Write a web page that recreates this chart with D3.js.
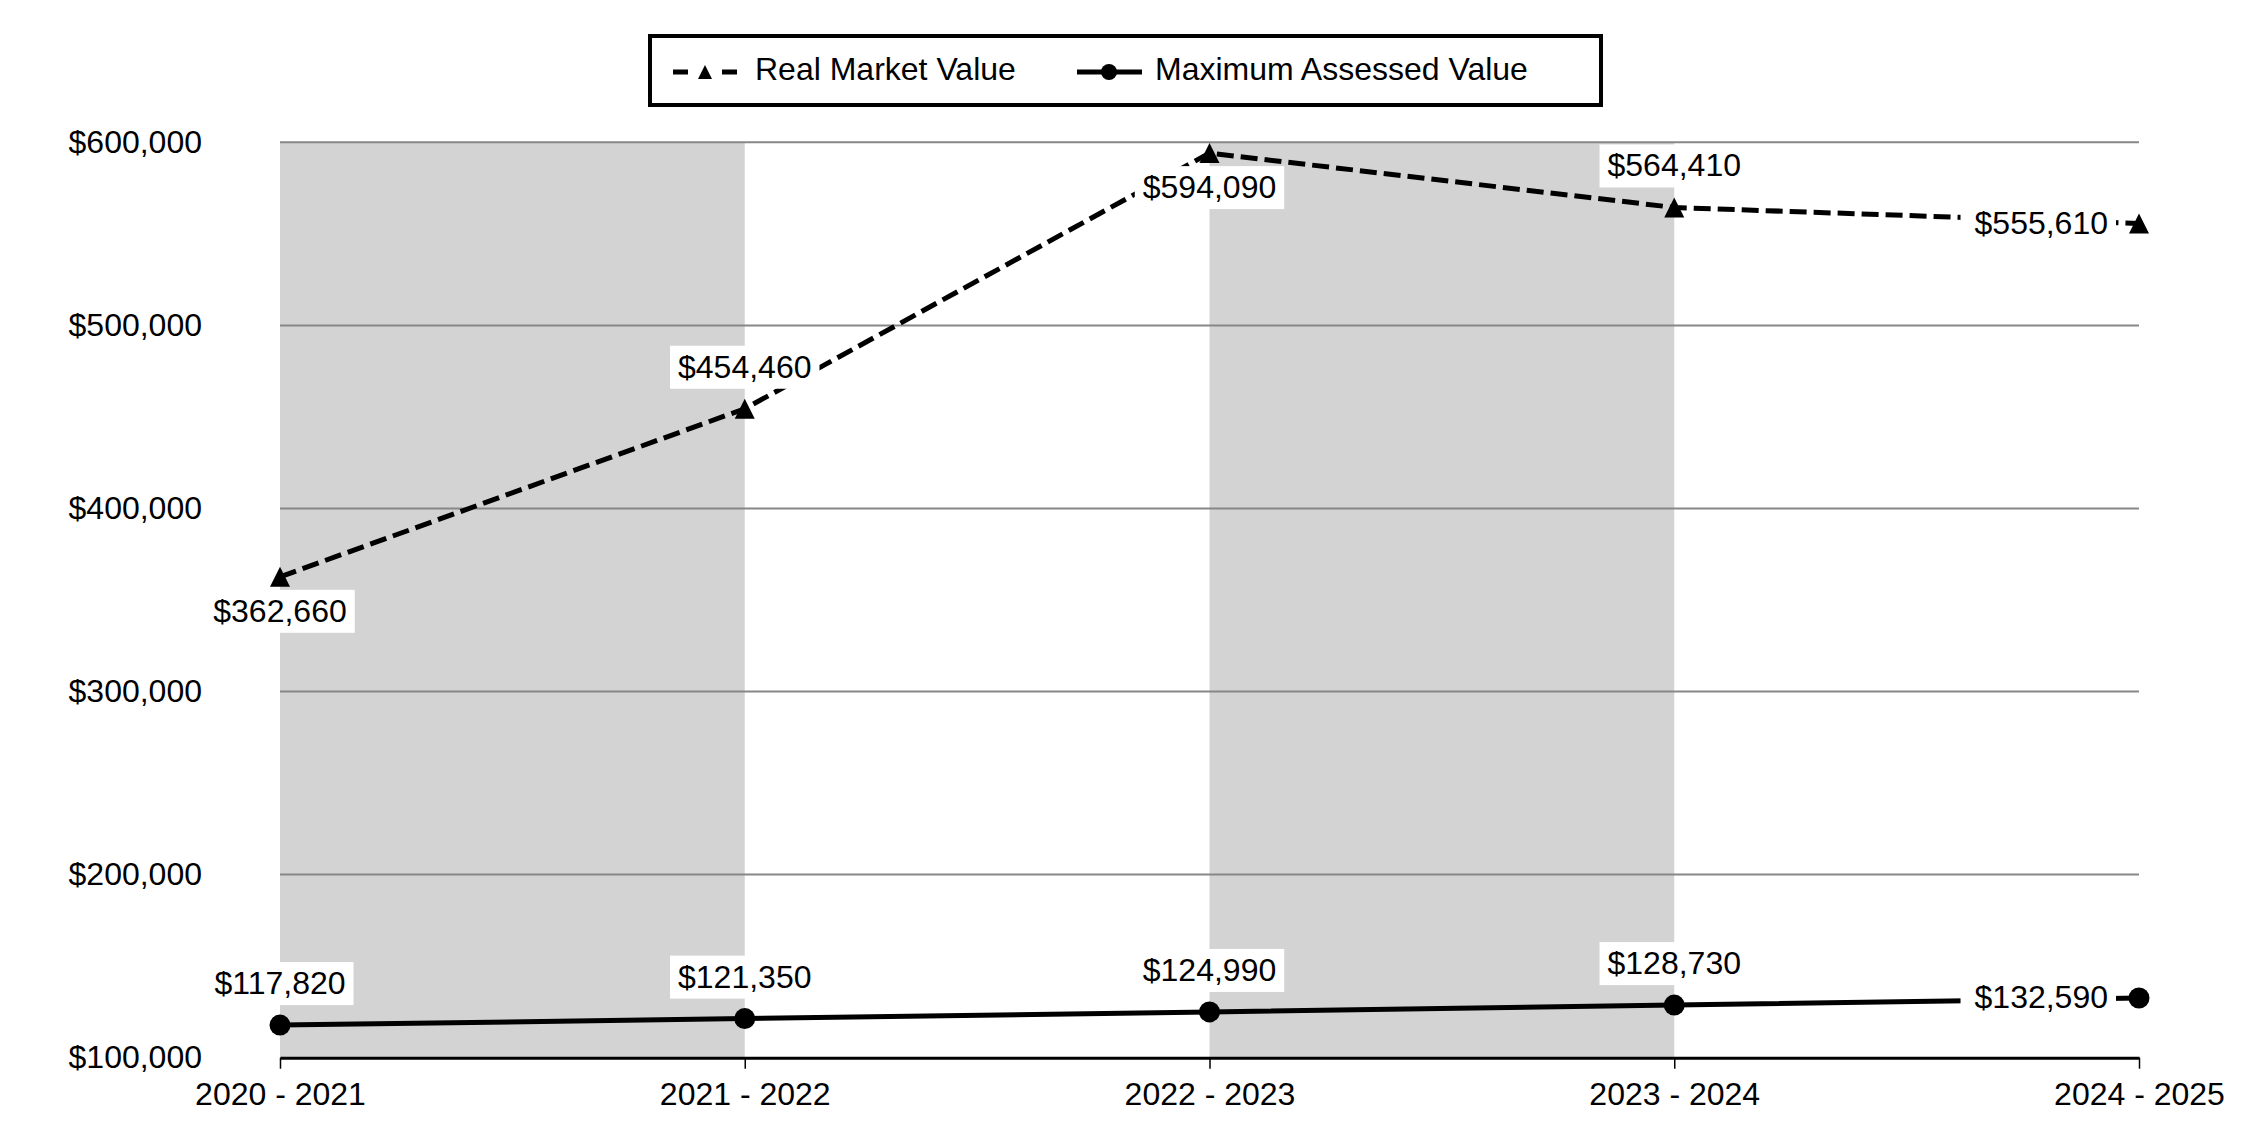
<!DOCTYPE html>
<html>
<head>
<meta charset="utf-8">
<script src="https://cdn.jsdelivr.net/npm/d3@7/dist/d3.min.js"></script>
<style>
  html, body { margin: 0; padding: 0; background: #ffffff; }
  svg { display: block; font-family: "Liberation Sans", Arial, sans-serif; }
</style>
</head>
<body>
<svg id="chart" width="2250" height="1140"></svg>
<script>
// ---- Data ----
const categories = ["2020 - 2021", "2021 - 2022", "2022 - 2023", "2023 - 2024", "2024 - 2025"];
const realMarketValue = [362660, 454460, 594090, 564410, 555610];
const maxAssessedValue = [117820, 121350, 124990, 128730, 132590];
const yTickValues = [100000, 200000, 300000, 400000, 500000, 600000];
const shadedBands = [[0, 1], [2, 3]];            // category index pairs
const seriesNames = ["Real Market Value", "Maximum Assessed Value"];
// label placement (relative to the point)
const rmvLabelPlacement = ["below", "above", "below", "above", "left"];
const mavLabelPlacement = ["above", "above", "above", "above", "left"];

// ---- Layout ----
const svg = d3.select("#chart");
const plotLeft = 280, plotRight = 2139, plotTop = 142.3, plotBottom = 1057.7;
const fontSize = 32;

const x = d3.scalePoint().domain(categories).range([plotLeft, plotRight]);
const y = d3.scaleLinear().domain([100000, 600000]).range([plotBottom, plotTop]);

// bands
svg.append("g").selectAll("rect").data(shadedBands).join("rect")
  .attr("x", d => x(categories[d[0]]))
  .attr("width", d => x(categories[d[1]]) - x(categories[d[0]]))
  .attr("y", y(600000))
  .attr("height", y(100000) - y(600000))
  .attr("fill", "#d3d3d3");

// gridlines
svg.append("g").selectAll("line").data(yTickValues.filter(v => v > 100000)).join("line")
  .attr("x1", plotLeft).attr("x2", plotRight)
  .attr("y1", d => y(d)).attr("y2", d => y(d))
  .attr("stroke", "#878787").attr("stroke-width", 2);

// y axis labels
const yAxis = svg.append("g")
  .attr("transform", `translate(${plotLeft},0)`)
  .call(d3.axisLeft(y).tickValues(yTickValues).tickFormat(d3.format("$,.0f")).tickSize(0).tickPadding(78));
yAxis.select(".domain").remove();
yAxis.selectAll("text").attr("font-size", fontSize).attr("font-family", "Liberation Sans, Arial, sans-serif").attr("fill", "#000");

// x axis
const xAxis = svg.append("g")
  .attr("transform", `translate(0,${plotBottom})`)
  .call(d3.axisBottom(x).tickSize(11).tickSizeOuter(0).tickPadding(14));
xAxis.select(".domain").attr("stroke", "#000").attr("stroke-width", 3);
xAxis.selectAll(".tick line").attr("stroke", "#000").attr("stroke-width", 1.5);
xAxis.selectAll("text").attr("font-size", fontSize).attr("font-family", "Liberation Sans, Arial, sans-serif").attr("fill", "#000");

// custom triangle symbol (width = height)
const triangleType = {
  draw(context, size) {
    const h = Math.sqrt(size);
    context.moveTo(0, -h / 2);
    context.lineTo(h / 2, h / 2);
    context.lineTo(-h / 2, h / 2);
    context.closePath();
  }
};

// lines
const line = d3.line().x((d, i) => x(categories[i])).y(d => y(d));
svg.append("path").datum(realMarketValue)
  .attr("d", line).attr("fill", "none").attr("stroke", "#000")
  .attr("stroke-width", 5).attr("stroke-dasharray", "17,7");
svg.append("path").datum(maxAssessedValue)
  .attr("d", line).attr("fill", "none").attr("stroke", "#000")
  .attr("stroke-width", 5);

// markers
svg.append("g").selectAll("path").data(realMarketValue).join("path")
  .attr("transform", (d, i) => `translate(${x(categories[i])},${y(d)})`)
  .attr("d", d3.symbol().type(triangleType).size(20 * 20)())
  .attr("fill", "#000");
svg.append("g").selectAll("path").data(maxAssessedValue).join("path")
  .attr("transform", (d, i) => `translate(${x(categories[i])},${y(d)})`)
  .attr("d", d3.symbol().type(d3.symbolCircle).size(Math.PI * 10.5 * 10.5)())
  .attr("fill", "#000");

// data labels
const fmt = d3.format("$,.0f");
function drawLabels(values, placement) {
  const g = svg.append("g");
  values.forEach((v, i) => {
    const px = x(categories[i]), py = y(v);
    const lg = g.append("g");
    const rect = lg.append("rect").attr("fill", "#fff");
    const t = lg.append("text").text(fmt(v))
      .attr("font-size", fontSize).attr("fill", "#000");
    let tx, ty, anchor;
    const p = placement[i];
    if (p === "above") { tx = px; ty = py - 31; anchor = "middle"; }
    else if (p === "below") { tx = px; ty = py + 45; anchor = "middle"; }
    else { tx = px - 31; ty = py + 10; anchor = "end"; }
    t.attr("x", tx).attr("y", ty).attr("text-anchor", anchor);
    const w = t.node().getComputedTextLength();
    const x0 = anchor === "middle" ? tx - w / 2 : tx - w;
    const padL = anchor === "end" ? 14 : 8, padR = anchor === "end" ? 8 : 8;
    rect.attr("x", x0 - padL).attr("width", w + padL + padR)
      .attr("y", ty - 32).attr("height", 43);
  });
}
drawLabels(realMarketValue, rmvLabelPlacement);
drawLabels(maxAssessedValue, mavLabelPlacement);

// legend
const legend = svg.append("g");
legend.append("rect").attr("x", 650).attr("y", 36).attr("width", 951).attr("height", 69)
  .attr("fill", "#fff").attr("stroke", "#000").attr("stroke-width", 4);
const ly = 72;
// RMV symbol
legend.append("line").attr("x1", 673).attr("x2", 737).attr("y1", ly).attr("y2", ly)
  .attr("stroke", "#000").attr("stroke-width", 5).attr("stroke-dasharray", "15,34");
legend.append("path").attr("transform", `translate(705,${ly})`)
  .attr("d", d3.symbol().type(triangleType).size(14 * 14)()).attr("fill", "#000");
legend.append("text").attr("x", 755).attr("y", 80).attr("font-size", fontSize).attr("fill", "#000").text(seriesNames[0]);
// MAV symbol
legend.append("line").attr("x1", 1077).attr("x2", 1142).attr("y1", ly).attr("y2", ly)
  .attr("stroke", "#000").attr("stroke-width", 5);
legend.append("path").attr("transform", `translate(1109,${ly})`)
  .attr("d", d3.symbol().type(d3.symbolCircle).size(Math.PI * 8 * 8)()).attr("fill", "#000");
legend.append("text").attr("x", 1155).attr("y", 80).attr("font-size", fontSize).attr("fill", "#000").text(seriesNames[1]);
</script>
</body>
</html>
